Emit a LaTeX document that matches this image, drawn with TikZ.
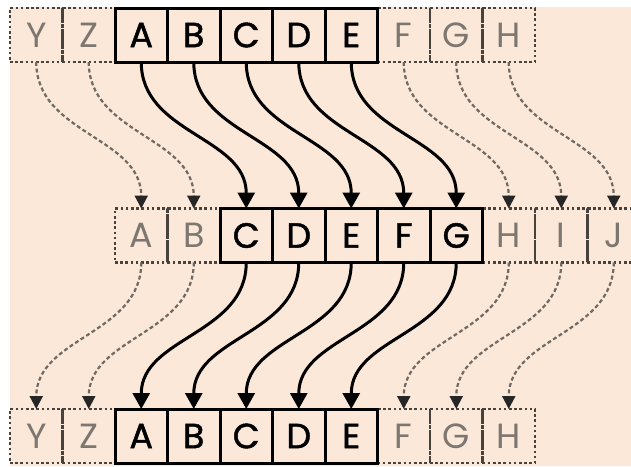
\documentclass[tikz,border=0pt]{standalone}
\usepackage{fontspec}
\setmainfont{Poppins}
\newfontfamily\solidfont[FakeBold=1.3]{Poppins}
\usetikzlibrary{arrows.meta}
\definecolor{peach}{RGB}{252,232,216}
\definecolor{ghost}{RGB}{125,119,113}
\definecolor{ghostline}{RGB}{112,106,100}
\definecolor{dotc}{RGB}{72,66,60}
\begin{document}
\begin{tikzpicture}[x=1pt,y=-1pt,
  cell/.style={minimum width=52.5pt,minimum height=54pt,inner sep=0pt,outer sep=0pt},
  ghostcell/.style={cell,draw=dotc,line width=2.6pt,dash pattern=on 2.6pt off 2.6pt,text=ghost,font=\fontsize{35}{35}\selectfont},
  solidcell/.style={cell,draw=black,line width=3pt,text=black,font=\solidfont\fontsize{35}{35}\selectfont},
  ghostarrow/.style={draw=ghostline,line width=2.2pt,dash pattern=on 4pt off 2.6pt,-{Triangle[width=13pt,length=13pt,color=black!85]}},
  solidarrow/.style={draw=black,line width=3pt,-{Triangle[width=17pt,length=16pt]}}
]
\useasboundingbox (0,0) rectangle (631,466);
\fill[peach] (10,6.5) rectangle (631,466);
% top row
\foreach \k/\L in {0/Y,1/Z,7/F,8/G,9/H}
  \node[ghostcell] (t\k) at ({36.25+52.5*\k},35) {\L};
\foreach \k/\L in {2/A,3/B,4/C,5/D,6/E}
  \node[solidcell] (t\k) at ({36.25+52.5*\k},35) {\L};
% middle row
\foreach \k/\L in {0/A,1/B,7/H,8/I,9/J}
  \node[ghostcell] (m\k) at ({141.25+52.5*\k},235.5) {\L};
\foreach \k/\L in {2/C,3/D,4/E,5/F,6/G}
  \node[solidcell] (m\k) at ({141.25+52.5*\k},235.5) {\L};
% bottom row
\foreach \k/\L in {0/Y,1/Z,7/F,8/G,9/H}
  \node[ghostcell] (b\k) at ({36.25+52.5*\k},436) {\L};
\foreach \k/\L in {2/A,3/B,4/C,5/D,6/E}
  \node[solidcell] (b\k) at ({36.25+52.5*\k},436) {\L};
% arrows top -> middle
\foreach \k in {0,1,7,8,9}
  \draw[ghostarrow] (t\k.south) .. controls +(0,72) and +(0,-72) .. (m\k.north);
\foreach \k in {2,...,6}
  \draw[solidarrow] (t\k.south) .. controls +(0,72) and +(0,-72) .. (m\k.north);
% arrows middle -> bottom
\foreach \k in {0,1,7,8,9}
  \draw[ghostarrow] (m\k.south) .. controls +(0,72) and +(0,-72) .. (b\k.north);
\foreach \k in {2,...,6}
  \draw[solidarrow] (m\k.south) .. controls +(0,72) and +(0,-72) .. (b\k.north);
\end{tikzpicture}
\end{document}
